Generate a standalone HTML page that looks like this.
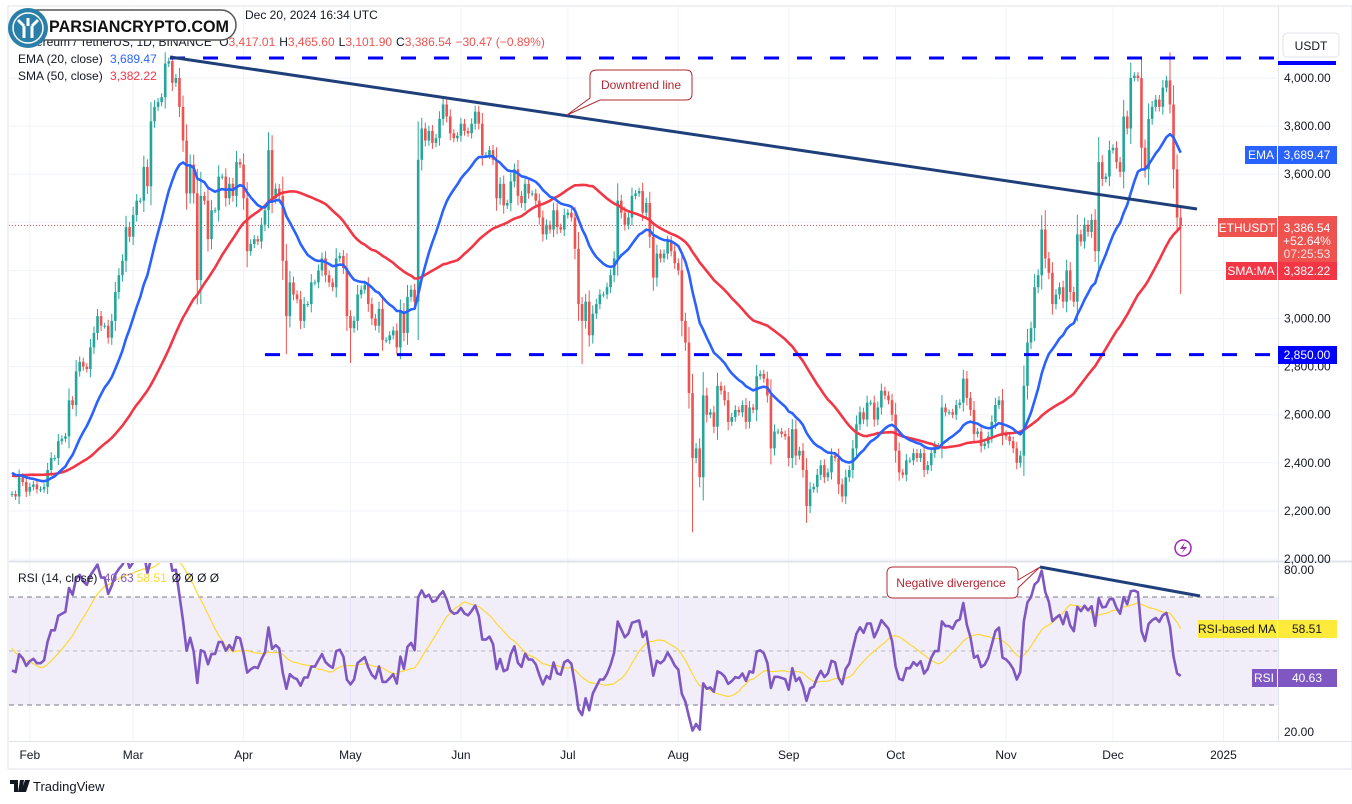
<!DOCTYPE html>
<html><head><meta charset="utf-8">
<style>
html,body{margin:0;padding:0;background:#fff;width:1352px;height:804px;overflow:hidden;font-family:"Liberation Sans",sans-serif;}
svg{position:absolute;left:0;top:0;}
text{font-family:"Liberation Sans",sans-serif;}
</style></head>
<body>
<svg id="chart" width="1352" height="804" viewBox="0 0 1352 804"></svg>
<script>
// ---------- data ----------
const warmup = [2350,2330,2260,2220,2250,2240,2300,2320,2290,2270,2310,2360,2380,2350,2310,2280,2300,2270,2320,2350,2360,2370,2350,2300,2290,2300,2350,2360,2300,2330,2290,2370,2340,2330,2240,2400,2580,2620,2520,2580,2520,2470,2490,2530,2470,2310,2240,2235,2220,2270];
const jan = [2270,2260,2340,2320,2280];
const feb = [2300,2310,2290,2290,2300,2370,2420,2420,2490,2500,2510,2660,2640,2780,2820,2800,2790,2880,2940,3010,2970,2970,2920,2990,3110,3180,3240,3380,3340];
const mar = [3430,3490,3490,3630,3550,3820,3880,3900,3920,4060,4070,3980,4000,3880,3740,3520,3640,3520,3160,3510,3490,3330,3450,3450,3590,3590,3500,3560,3510,3650,3640];
const apr = [3500,3280,3310,3330,3320,3390,3450,3700,3500,3540,3510,3240,3010,3150,3100,3080,2990,3060,3060,3150,3150,3200,3250,3180,3150,3130,3250,3260,3210,3010];
const may = [2960,2990,3100,3120,3140,3060,3000,2970,3040,2910,2910,2930,2950,2880,3030,2940,3090,3120,3070,3660,3790,3740,3780,3730,3750,3830,3890,3840,3770,3750,3760];
const jun = [3810,3780,3770,3810,3860,3810,3680,3680,3700,3660,3500,3560,3470,3480,3570,3620,3510,3480,3560,3520,3520,3490,3420,3350,3390,3370,3450,3380,3370,3430];
const jul = [3440,3420,3290,3060,2990,3070,2930,3020,3060,3100,3100,3130,3180,3250,3490,3440,3390,3420,3510,3520,3530,3440,3480,3340,3170,3270,3250,3270,3320,3280,3230];
const aug = [3200,2990,2900,2690,2420,2460,2340,2680,2600,2610,2550,2720,2700,2660,2570,2590,2620,2610,2640,2570,2630,2620,2760,2770,2750,2680,2460,2530,2530,2520,2510];
const sep = [2420,2540,2430,2450,2370,2220,2290,2300,2350,2390,2340,2360,2430,2420,2310,2260,2340,2370,2460,2560,2610,2580,2650,2650,2580,2630,2700,2680,2660,2600];
const oct = [2450,2360,2350,2410,2410,2440,2420,2440,2370,2390,2440,2470,2470,2630,2610,2610,2600,2640,2650,2750,2670,2620,2520,2530,2470,2480,2510,2570,2640,2660,2520];
const nov = [2510,2490,2460,2400,2430,2720,2900,2960,3130,3180,3370,3250,3190,3060,3100,3130,3070,3200,3110,3070,3350,3320,3390,3360,3410,3280,3650,3580,3590,3700];
const dec = [3710,3650,3610,3840,3790,4000,4010,4000,3710,3620,3830,3880,3910,3880,3960,3990,3890,3620,3420,3386.54];
const extremeIdx  = [45,77,95,160,191,223,290,325,328];
const extremeHigh = [4093,null,null,null,null,null,3450,4107,3465];
const extremeLow  = [null,2852,2815,2810,2111,2150,null,null,3102];
const priceTicks = [4000,3800,3600,3400,3200,3000,2800,2600,2400,2200,2000];
const rsiTicks = [80,20];
const monthLabels = ['Feb','Mar','Apr','May','Jun','Jul','Aug','Sep','Oct','Nov','Dec','2025'];
const monthIdx = [5,34,65,95,126,156,187,218,248,279,309,340];

// ---------- scales ----------
const X0 = 12, DX = 3.563;
const xOf = i => X0 + i*DX;
const yP = p => 78 + (4000-p)*0.2405;
const yR = r => 570 + (80-r)*2.7;

const svg = document.getElementById('chart');
const NS = 'http://www.w3.org/2000/svg';
function mk(tag, attrs, parent){const e=document.createElementNS(NS,tag);for(const k in attrs)e.setAttribute(k,attrs[k]);(parent||svg).appendChild(e);return e;}
function txt(s, attrs, parent){const e=mk('text',attrs,parent);e.textContent=s;return e;}

const closes = [].concat(jan,feb,mar,apr,may,jun,jul,aug,sep,oct,nov,dec);
const all = warmup.concat(closes);
const W = warmup.length;

// indicators
const ema=[];let k=2/21;all.forEach((c,i)=>{ema.push(i===0?c:c*k+ema[i-1]*(1-k));});
const sma=all.map((c,i)=>{const s=Math.max(0,i-49);const a=all.slice(s,i+1);return a.reduce((x,y)=>x+y,0)/a.length;});
const rsi=[];let ag=0,al=0;
for(let i=1;i<all.length;i++){const d=all[i]-all[i-1];const g=Math.max(d,0),l=Math.max(-d,0);
 if(i<=14){ag+=g/14;al+=l/14;}else{ag=(ag*13+g)/14;al=(al*13+l)/14;}
 rsi[i]= al===0?100:100-100/(1+ag/al);}
rsi[0]=50;
const rsiMa=rsi.map((v,i)=>{const s=Math.max(1,i-13);const a=rsi.slice(s,i+1);return a.reduce((x,y)=>x+y,0)/a.length;});

// ---------- frame & grid ----------
mk('rect',{x:8,y:6,width:1344,height:763,fill:'none',stroke:'#e0e3eb','stroke-width':1});
const grid = mk('g',{});


priceTicks.forEach(p=>mk('line',{x1:9,x2:1278,y1:yP(p),y2:yP(p),stroke:'#f0f3fa','stroke-width':1},grid));
monthIdx.forEach(i=>{mk('line',{x1:xOf(i),x2:xOf(i),y1:6,y2:741,stroke:'#f0f3fa','stroke-width':1},grid);});
mk('line',{x1:9,x2:1352,y1:561.5,y2:561.5,stroke:'#e0e3eb','stroke-width':2});
mk('line',{x1:1278.5,x2:1278.5,y1:6,y2:741,stroke:'#e0e3eb','stroke-width':1});
mk('line',{x1:9,x2:1352,y1:741.5,y2:741.5,stroke:'#e0e3eb','stroke-width':1});

// price axis labels
const pax = mk('g',{});


priceTicks.forEach(p=>txt(p.toLocaleString('en-US',{minimumFractionDigits:2}),{x:1284,y:yP(p)+4,'font-size':12,fill:'#131722'},pax));

// x axis labels
const xax = mk('g',{});


monthLabels.forEach((m,j)=>txt(m,{x:xOf(monthIdx[j]),y:759,'font-size':12,fill:'#131722','text-anchor':'middle'},xax));

// ---------- price pane ----------
const pane = mk('svg',{x:0,y:0,width:1278,height:560,overflow:'hidden'});
mk('line',{x1:9,x2:1278,y1:yP(3386.54),y2:yP(3386.54),stroke:'#ef5350','stroke-width':1,'stroke-dasharray':'1 2'},pane);
const cg = mk('g',{},pane);


closes.forEach((c,i)=>{
  const o = all[W+i-1];
  let hi = Math.max(o,c)+12+Math.abs(c-o)*0.25, lo = Math.min(o,c)-12-Math.abs(c-o)*0.25;
  const ei = extremeIdx.indexOf(i);
  if(ei>=0){ if(extremeHigh[ei]!==null) hi=extremeHigh[ei]; if(extremeLow[ei]!==null) lo=extremeLow[ei]; }
  const col = c>=o?'#26a69a':'#ef5350';
  const x = xOf(i);
  const w = mk('line',{x1:x,x2:x,y1:yP(hi),y2:yP(lo),stroke:col,'stroke-width':1},cg);
  
  
  const top=yP(Math.max(o,c)), bot=yP(Math.min(o,c));
  const b = mk('rect',{x:x-1.3,y:top,width:2.6,height:Math.max(1,bot-top),fill:col},cg);
  
  
});
function pathFrom(arr, yf){return closes.map((_,i)=>(i?'L':'M')+xOf(i).toFixed(1)+','+yf(arr[W+i]).toFixed(1)).join(' ');}
const smaL = mk('path',{d:pathFrom(sma,yP),fill:'none',stroke:'#f23645','stroke-width':2.6,'stroke-linejoin':'round'},pane);


const emaL = mk('path',{d:pathFrom(ema,yP),fill:'none',stroke:'#2962ff','stroke-width':2.6,'stroke-linejoin':'round'},pane);


const lv1 = mk('line',{x1:170,x2:1278,y1:58,y2:58,stroke:'#0000ff','stroke-width':3,'stroke-dasharray':'15 18'},pane);


const lv2 = mk('line',{x1:265,x2:1278,y1:yP(2850),y2:yP(2850),stroke:'#0000ff','stroke-width':3,'stroke-dasharray':'15 18'},pane);


const dl = mk('line',{x1:170,y1:57,x2:1197,y2:209,stroke:'#1e3f7a','stroke-width':3},pane);


const co = mk('g',{},pane);


mk('path',{d:'M597,70 H686 Q692,70 692,76 V94 Q692,100 686,100 H600 L567,115 L590,98 V76 Q590,70 597,70 Z',fill:'#fff',stroke:'#b22833','stroke-width':1},co);
txt('Downtrend line',{x:641,y:89,'font-size':12,fill:'#b22833','text-anchor':'middle'},co);
const li = mk('g',{},pane);


mk('circle',{cx:1183,cy:548,r:8,fill:'none',stroke:'#9c27b0','stroke-width':1.5},li);
mk('path',{d:'M1185,542 L1180,549 H1184 L1181,554 L1187,547 H1183 Z',fill:'#9c27b0'},li);

// ---------- RSI pane ----------
const rp = mk('svg',{x:0,y:563,width:1278,height:177,overflow:'hidden'});
const rg = mk('g',{transform:'translate(0,-563)'},rp);
mk('rect',{x:9,y:yR(70),width:1269,height:yR(30)-yR(70),fill:'#7e57c2','fill-opacity':0.1},rg);
[70,50,30].forEach(v=>mk('line',{x1:9,x2:1278,y1:yR(v),y2:yR(v),stroke:'#787b86','stroke-width':1,'stroke-dasharray':v===50?'4 4':'5 4','stroke-opacity':v===50?0.5:1},rg));
const rma = mk('path',{d:pathFrom(rsiMa,yR),fill:'none',stroke:'#fdd835','stroke-width':1.2},rg);


const rl = mk('path',{d:pathFrom(rsi,yR),fill:'none',stroke:'#7e57c2','stroke-width':2.6,'stroke-linejoin':'round'},rg);


const dv = mk('line',{x1:1040,y1:567,x2:1200,y2:596,stroke:'#1e3f7a','stroke-width':3},rg);


const nc = mk('g',{},rg);


mk('path',{d:'M893,567 H1012 Q1018,567 1018,573 V580 L1040,567 L1018,588 V592 Q1018,598 1012,598 H893 Q887,598 887,592 V573 Q887,567 893,567 Z',fill:'#fff',stroke:'#b22833','stroke-width':1},nc);
txt('Negative divergence',{x:951,y:587,'font-size':12,fill:'#b22833','text-anchor':'middle'},nc);

rsiTicks.forEach(v=>{const t=txt(v.toFixed(2),{x:1284,y:yR(v)+4,'font-size':12,fill:'#131722'});});
</script>

<svg width="1352" height="804" style="pointer-events:none">
  <text x="245" y="19" font-size="12" fill="#131722">Dec 20, 2024 16:34 UTC</text>
  <text x="18" y="46" font-size="12" fill="#131722">Ethereum / TetherUS, 1D, BINANCE <tspan dx="4">O</tspan><tspan fill="#ef5350">3,417.01</tspan><tspan dx="4">H</tspan><tspan fill="#ef5350">3,465.60</tspan><tspan dx="4">L</tspan><tspan fill="#ef5350">3,101.90</tspan><tspan dx="4">C</tspan><tspan fill="#ef5350">3,386.54</tspan><tspan dx="4" fill="#ef5350">−30.47 (−0.89%)</tspan></text>
  <text x="18" y="63" font-size="12" fill="#131722">EMA (20, close) <tspan dx="4" fill="#2962ff">3,689.47</tspan></text>
  <text x="18" y="80" font-size="12" fill="#131722">SMA (50, close) <tspan dx="4" fill="#f23645">3,382.22</tspan></text>
  <text x="18" y="582" font-size="12" fill="#131722">RSI (14, close) <tspan dx="3" fill="#7e57c2">40.63</tspan><tspan dx="3" fill="#fdd835">58.51</tspan><tspan dx="5">Ø  Ø  Ø  Ø</tspan></text>
  <g>
    <rect x="14" y="10" width="222" height="30" rx="15" fill="#fff" stroke="#555" stroke-width="1.5"/>
    <circle cx="28" cy="28" r="20" fill="#2a7fa8"/>
    <circle cx="28" cy="28" r="15" fill="none" stroke="#fff" stroke-width="1.5"/>
    <path d="M24,38 V26 M32,38 V26 M24,26 L18,20 M32,26 L38,20 M28,26 V18" stroke="#fff" stroke-width="3" fill="none"/>
    <text x="49" y="32" font-size="17" font-weight="bold" fill="#111" textLength="180" lengthAdjust="spacingAndGlyphs">PARSIANCRYPTO.COM</text>
  </g>
  <g>
    <rect x="1283" y="33" width="56" height="24" rx="4" fill="#fff" stroke="#e0e3eb"/>
    <text x="1311" y="50" font-size="12" fill="#131722" text-anchor="middle">USDT</text>
  </g>
  <rect x="1278" y="61" width="58" height="4" fill="#0000ff"/>
  <g>
    <rect x="1245" y="146" width="32" height="18" fill="#2962ff"/>
    <text x="1261" y="159" font-size="12" fill="#fff" text-anchor="middle">EMA</text>
    <rect x="1278" y="146" width="59" height="18" fill="#2962ff"/>
    <text x="1307" y="159" font-size="12" fill="#fff" text-anchor="middle">3,689.47</text>
  </g>
  <g>
    <rect x="1218" y="218" width="59" height="19" fill="#ef5350"/>
    <text x="1247" y="232" font-size="12" fill="#fff" text-anchor="middle">ETHUSDT</text>
    <rect x="1278" y="216" width="59" height="46" fill="#ef5350"/>
    <text x="1307" y="232" font-size="12" fill="#fff" text-anchor="middle">3,386.54</text>
    <text x="1307" y="245" font-size="12" fill="#fff" text-anchor="middle">+52.64%</text>
    <text x="1307" y="258" font-size="12" fill="#fde0e0" text-anchor="middle">07:25:53</text>
  </g>
  <g>
    <rect x="1226" y="262" width="51" height="18" fill="#f23645"/>
    <text x="1251" y="275" font-size="12" fill="#fff" text-anchor="middle">SMA:MA</text>
    <rect x="1278" y="262" width="59" height="18" fill="#f23645"/>
    <text x="1307" y="275" font-size="12" fill="#fff" text-anchor="middle">3,382.22</text>
  </g>
  <g>
    <rect x="1278" y="346" width="59" height="18" fill="#0000ff"/>
    <text x="1307" y="359" font-size="12" fill="#fff" text-anchor="middle">2,850.00</text>
  </g>
  <g>
    <rect x="1198" y="620" width="79" height="18" fill="#fdeb3b"/>
    <text x="1237" y="633" font-size="12" fill="#131722" text-anchor="middle">RSI-based MA</text>
    <rect x="1278" y="620" width="59" height="18" fill="#fdeb3b"/>
    <text x="1307" y="633" font-size="12" fill="#131722" text-anchor="middle">58.51</text>
  </g>
  <g>
    <rect x="1252" y="669" width="25" height="18" fill="#7e57c2"/>
    <text x="1264" y="682" font-size="12" fill="#fff" text-anchor="middle">RSI</text>
    <rect x="1278" y="669" width="59" height="18" fill="#7e57c2"/>
    <text x="1307" y="682" font-size="12" fill="#fff" text-anchor="middle">40.63</text>
  </g>
  <g>
    <path d="M10,780 H18 V792 H14 V784 H10 Z M20,780 H24 L22,792 H18 Z M25,780 H30 L26,792 H21 Z" fill="#131722"/>
    <text x="33" y="791" font-size="13" fill="#131722">TradingView</text>
  </g>
</svg>
</body></html>
